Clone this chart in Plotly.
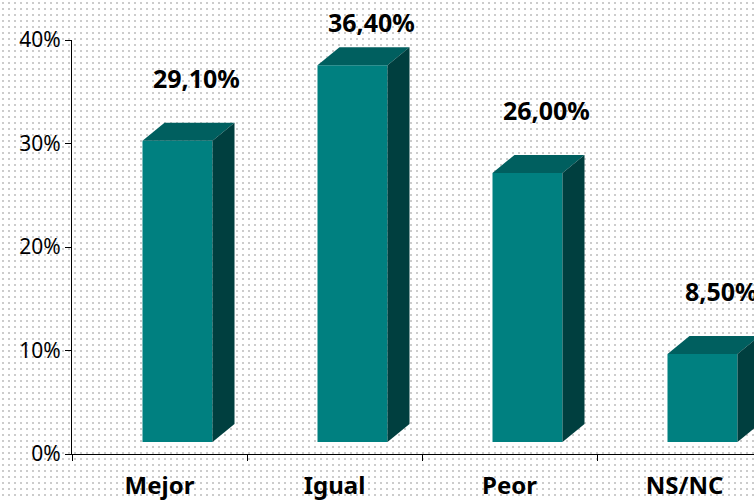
import base64
import plotly.graph_objects as go

# ---- data ----
categories = ["Mejor", "Igual", "Peor", "NS/NC"]
values = [29.1, 36.4, 26.0, 8.5]
value_labels = ["29,10%", "36,40%", "26,00%", "8,50%"]
y_ticks = [0, 10, 20, 30, 40]
y_tick_labels = ["0%", "10%", "20%", "30%", "40%"]

# ---- layout geometry / style ----
W, H = 754, 500
ML, MR, MT, MB = 72, 0, 40, 46
PLOT_W = W - ML - MR
PLOT_H = H - MT - MB
YMAX = 40
PPU_Y = PLOT_H / YMAX            # pixels per % unit
CAT_PX = 175                     # pixels per category
X_LO = -0.5
X_HI = X_LO + PLOT_W / CAT_PX
FLOOR = 12 / PPU_Y               # bars stand back from the axis (3D floor)
DX = 22 / CAT_PX                 # 3D depth in x units
DY = 18 / PPU_Y                  # 3D depth in y units
BAR_OFF = -17 / CAT_PX
BAR_W = 70 / CAT_PX
LABEL_DX = 0.11
LABEL_GAP = 6.1
LABEL_CEIL = 1 + 18 / PLOT_H     # paper fraction

FRONT = "#008080"
TOP = "#005f5f"
SIDE = "#003f3f"

FONT = "Noto Sans"

x_idx = list(range(len(categories)))

fig = go.Figure()
fig.add_trace(go.Bar(
    x=x_idx, y=values, base=FLOOR,
    offset=BAR_OFF, width=BAR_W,
    marker=dict(color=FRONT, line=dict(width=0)),
    hoverinfo="skip", showlegend=False, cliponaxis=False,
))

shapes = []
for i, v in zip(x_idx, values):
    x0 = i + BAR_OFF
    x1 = x0 + BAR_W
    yb = FLOOR
    yt = v + FLOOR
    top = f"M{x0},{yt} L{x1},{yt} L{x1+DX},{yt+DY} L{x0+DX},{yt+DY} Z"
    side = f"M{x1},{yb} L{x1},{yt} L{x1+DX},{yt+DY} L{x1+DX},{yb+DY} Z"
    shapes.append(dict(type="path", path=top, xref="x", yref="y",
                       fillcolor=TOP, line=dict(width=0), layer="above"))
    shapes.append(dict(type="path", path=side, xref="x", yref="y",
                       fillcolor=SIDE, line=dict(width=0), layer="above"))

annotations = []
for i, v, t in zip(x_idx, values, value_labels):
    annotations.append(dict(
        x=i + BAR_OFF + BAR_W / 2 + LABEL_DX,
        y=min((v + FLOOR + LABEL_GAP) / YMAX, LABEL_CEIL),
        xref="x", yref="paper", text=t, showarrow=False,
        xanchor="center", yanchor="middle",
        font=dict(family=FONT, size=25, color="black", weight="bold"),
    ))

# dotted background as an svg pattern image
svg = (
    f"<svg xmlns='http://www.w3.org/2000/svg' width='{W}' height='{H}'>"
    "<defs><pattern id='p' width='6' height='6' patternUnits='userSpaceOnUse'>"
    "<rect width='6' height='6' fill='#ffffff'/>"
    "<rect x='2' y='2' width='2' height='2' fill='#cccccc'/>"
    "</pattern></defs>"
    f"<rect width='{W}' height='{H}' fill='url(#p)'/></svg>"
)
src = "data:image/svg+xml;base64," + base64.b64encode(svg.encode()).decode()

fig.update_layout(
    width=W, height=H,
    margin=dict(l=ML, r=MR, t=MT, b=MB, pad=0, autoexpand=False),
    paper_bgcolor="white",
    plot_bgcolor="rgba(0,0,0,0)",
    showlegend=False,
    shapes=shapes,
    annotations=annotations,
    images=[dict(
        source=src, xref="paper", yref="paper",
        x=-ML / PLOT_W, y=1 + MT / PLOT_H,
        sizex=W / PLOT_W, sizey=H / PLOT_H,
        xanchor="left", yanchor="top", sizing="stretch", layer="below",
    )],
    xaxis=dict(
        range=[X_LO, X_HI], showgrid=False, zeroline=False, automargin=False,
        showline=True, linecolor="black", linewidth=1,
        tickmode="array", tickvals=x_idx, ticktext=categories,
        ticks="", ticklabelstandoff=10,
        tickfont=dict(family=FONT, size=24, color="black", weight="bold"),
        minor=dict(tickmode="array", tickvals=[-0.5, 0.5, 1.5, 2.5],
                   ticks="outside", ticklen=6, tickcolor="black", showgrid=False),
        fixedrange=True,
    ),
    yaxis=dict(
        range=[0, YMAX], showgrid=False, zeroline=False, automargin=False,
        showline=True, linecolor="black", linewidth=1,
        tickmode="array", tickvals=y_ticks, ticktext=y_tick_labels,
        ticks="outside", ticklen=6, tickcolor="black",
        tickfont=dict(family=FONT, size=21, color="black"),
        fixedrange=True,
    ),
)

fig.write_html(
    "out.html",
    config={"displayModeBar": False},
    post_script="document.body.style.margin='0';document.body.style.overflow='hidden';",
)
